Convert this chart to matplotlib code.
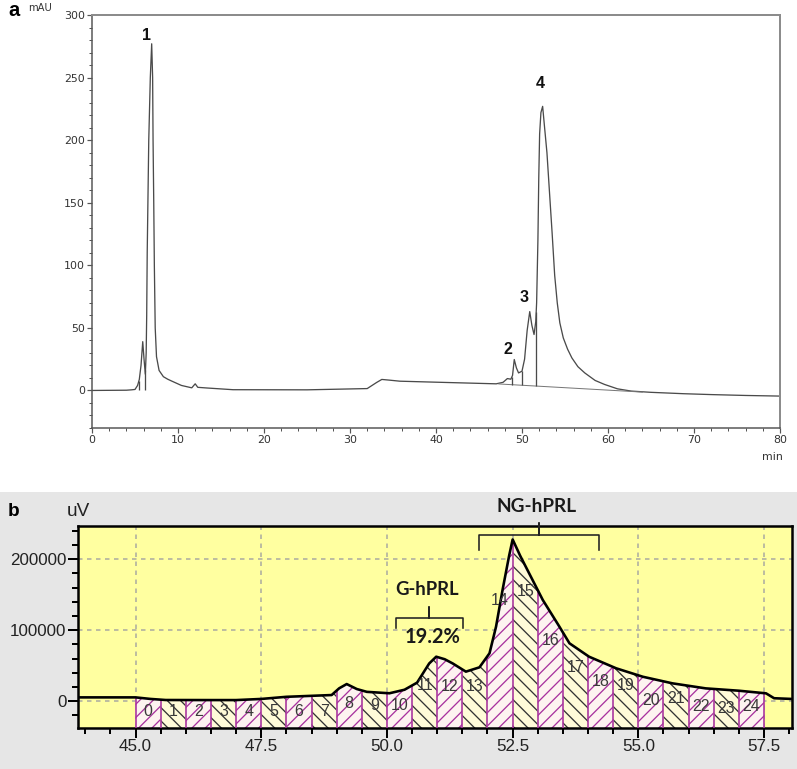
import numpy as np
import matplotlib
matplotlib.use("Agg")
import matplotlib.pyplot as plt
from matplotlib.ticker import MultipleLocator
from matplotlib.patches import Rectangle

W, H, DPI = 797, 769, 80
PX = 72.0 / DPI  # points per pixel

# ---- panel a: UV chromatogram (mAU vs min) ----
t_a = [0.0, 4.0, 4.6, 5.0, 5.3, 5.5, 5.7, 5.9, 6.05, 6.2, 6.3, 6.36, 6.42, 6.5, 6.6, 6.78,
       6.94, 7.05, 7.1, 7.18, 7.25, 7.35, 7.5, 7.8, 8.3, 8.8, 9.3, 10.4, 11.6, 12.0, 12.3,
       13.3, 16.4, 25.0, 32.0, 33.1, 33.7, 34.5, 35.8, 40.0, 47.0, 47.8, 48.3, 48.7, 48.9,
       49.1, 49.35, 49.6, 50.0, 50.3, 50.6, 50.9, 51.15, 51.4, 51.6, 51.7, 51.85, 51.95,
       52.05, 52.2, 52.4, 52.6, 52.9, 53.2, 53.5, 53.8, 54.1, 54.4, 54.8, 55.3, 55.8, 56.5,
       57.3, 58.5, 59.6, 61.1, 62.7, 65.0, 68.8, 72.0, 76.0, 80.0]
mau = [0.0, 0.2, 0.5, 0.8, 4.0, 8.8, 20.0, 39.0, 25.0, 13.0, 30.0, 60.0, 110.0, 150.0, 200.0, 250.0,
       277.0, 250.0, 200.0, 150.0, 100.0, 50.0, 27.0, 16.0, 11.0, 9.0, 7.4, 4.0, 2.1, 5.3, 2.5,
       2.0, 0.6, 0.5, 1.5, 6.4, 8.8, 8.3, 7.4, 6.6, 5.3, 6.5, 9.5, 9.0, 12.0,
       24.7, 18.0, 14.0, 15.4, 25.0, 48.0, 63.0, 52.0, 44.7, 55.0, 70.0, 120.0, 170.0,
       205.0, 222.0, 227.0, 212.0, 190.0, 158.0, 126.0, 92.0, 70.0, 54.0, 42.0, 33.0, 26.0, 19.0,
       14.0, 8.0, 4.8, 1.3, -0.5, -1.5, -2.6, -3.3, -4.0, -4.5]
base_t = [47.3, 64.0]
base_v = [5.2, -1.3]
drop_t = [5.45, 6.22, 48.8, 50.0, 51.65]
drop_base = [0.5, 0.5, 4.6, 4.2, 3.7]
peak_names = ["1", "2", "3", "4"]
peak_x = [6.3, 48.4, 50.2, 52.1]
peak_y = [284, 33, 74, 245]

# ---- panel b: fraction profile (uV vs min) ----
t_b = [43.85, 45.0, 45.3, 45.6, 46.5, 47.0, 47.5, 48.0, 48.9, 49.05, 49.2, 49.4, 49.6, 50.05,
       50.35, 50.6, 50.84, 50.98, 51.15, 51.31, 51.57, 51.84, 52.04, 52.17, 52.3, 52.43, 52.5,
       52.65, 52.83, 53.1, 53.43, 53.63, 54.02, 54.56, 55.09, 55.68, 56.34, 57.0, 57.54, 57.7,
       58.05]
uv = [5200, 5200, 3000, 1500, 1400, 1400, 3000, 6000, 8500, 18000, 24000, 17000, 13000, 11000,
      16000, 26000, 53000, 62600, 59000, 53000, 41500, 47600, 67400, 105000, 157000, 205000, 228000,
      205000, 180000, 142600, 105000, 81500, 62600, 46200, 34300, 25000, 17900, 14600, 10900, 4000,
      3000]
frac_start = 45.0
frac_width = 0.5
frac_names = [str(i) for i in range(25)]
frac_label_y = [-15000, -15000, -15000, -15000, -15000, -15000, -15000, -15000, -3000, -6000,
                -6000, 22500, 21000, 20000, 142000, 154000, 86000, 48000, 27000, 22600,
                1400, 4000, -8000, -10000, -8000]

NARROW = ["Liberation Sans", "DejaVu Sans"]

fig = plt.figure(figsize=(W / DPI, H / DPI), dpi=DPI)
fig.patches.append(Rectangle((0, 0), 1, 1 - 492 / H, transform=fig.transFigure,
                             facecolor="#e6e6e6", edgecolor="none", zorder=-10))

# ================= panel a =================
ax1 = fig.add_axes([92 / W, 1 - 428 / H, (780 - 92) / W, (428 - 15) / H])
ax1.plot(t_a, mau, color="#4a4a4a", lw=1.3 * PX)
ax1.plot(base_t, base_v, color="#777777", lw=1.0 * PX)
ax1.vlines(drop_t, drop_base, np.interp(drop_t, t_a, mau), color="#4a4a4a", lw=1.3 * PX)
ax1.set_xlim(0, 80)
ax1.set_ylim(-30, 300)
ax1.set_xticks(range(0, 81, 10))
ax1.set_yticks(range(0, 301, 50))
ax1.xaxis.set_minor_locator(MultipleLocator(2))
ax1.yaxis.set_minor_locator(MultipleLocator(10))
ax1.tick_params(which="major", direction="out", length=5 * PX, width=1.2 * PX, color="#555555",
                labelsize=11 * PX, labelcolor="#333333", pad=2 * PX)
ax1.tick_params(which="minor", direction="out", length=3 * PX, width=1.0 * PX, color="#555555")
for s in ["left", "bottom"]:
    ax1.spines[s].set_color("#555555")
    ax1.spines[s].set_linewidth(1.5 * PX)
for s in ["top", "right"]:
    ax1.spines[s].set_color("#8c8c8c")
    ax1.spines[s].set_linewidth(2 * PX)
for name, x, y in zip(peak_names, peak_x, peak_y):
    ax1.text(x, y, name, ha="center", va="center", fontsize=16 * PX, fontweight="bold",
             family="Liberation Sans", color="#111111")
fig.text(8 / W, 1 - 11 / H, "a", fontsize=20 * PX, fontweight="bold", va="center",
         family="Liberation Sans")
fig.text(28 / W, 1 - 8 / H, "mAU", fontsize=10 * PX, va="center", color="#333333")
fig.text(772 / W, 1 - 457 / H, "min", fontsize=11 * PX, ha="center", va="center", color="#333333")

# ================= panel b =================
ymin_b, ymax_b = -38000, 247000
ax2 = fig.add_axes([77.7 / W, 1 - 728 / H, (791.7 - 77.7) / W, (728 - 526) / H])
ax2.set_facecolor("#ffffa0")
ax2.set_xlim(43.85, 58.05)
ax2.set_ylim(ymin_b, ymax_b)

plt.rcParams["hatch.linewidth"] = 1.3 * PX
tb = np.array(t_b)
vb = np.array(uv)
for i in range(len(frac_names)):
    a = frac_start + i * frac_width
    b = a + frac_width
    inside = (tb > a) & (tb < b)
    xs = np.concatenate([[a], tb[inside], [b]])
    ys = np.interp(xs, tb, vb)
    if i % 2 == 0:
        ax2.fill_between(xs, ymin_b, ys, facecolor="#fdf3f0", edgecolor="#a8329e",
                         hatch="//", linewidth=0, zorder=2)
    else:
        ax2.fill_between(xs, ymin_b, ys, facecolor="#fffbd8", edgecolor="#333333",
                         hatch="\\\\", linewidth=0, zorder=2)
    ax2.text((a + b) / 2, frac_label_y[i], frac_names[i], ha="center", va="center",
             fontsize=16 * PX, color="#3a3a3a", zorder=6, family=NARROW)

edges = frac_start + frac_width * np.arange(len(frac_names) + 1)
ax2.vlines(edges, ymin_b, np.interp(edges, tb, vb), color="#a8329e", lw=1.6 * PX, zorder=3)
ax2.plot(t_b, uv, color="black", lw=2.6 * PX, zorder=5)

ax2.set_xticks([45.0, 47.5, 50.0, 52.5, 55.0, 57.5])
ax2.set_xticklabels(["45.0", "47.5", "50.0", "52.5", "55.0", "57.5"])
ax2.set_yticks([0, 100000, 200000])
ax2.set_yticklabels(["0", "100000", "200000"])
ax2.xaxis.set_minor_locator(MultipleLocator(0.5))
ax2.yaxis.set_minor_locator(MultipleLocator(20000))
ax2.grid(True, which="major", color="#a8a8a0", linestyle=(0, (3, 3)), lw=1.5 * PX, zorder=1)
ax2.set_axisbelow(True)
ax2.tick_params(which="major", direction="out", length=10 * PX, width=2 * PX, color="black",
                labelsize=17 * PX, labelcolor="#222222", pad=1)
ax2.tick_params(which="minor", direction="out", length=6 * PX, width=2 * PX, color="black")
for lab in ax2.get_xticklabels() + ax2.get_yticklabels():
    lab.set_family(NARROW)
for s in ax2.spines.values():
    s.set_color("black")
    s.set_linewidth(2.5 * PX)

# annotations: G-hPRL and NG-hPRL braces
def brace(ax, x0, x1, y_mid, y_end, y_top):
    xc = (x0 + x1) / 2
    ax.plot([x0, x0, xc, xc, xc, x1, x1], [y_end, y_mid, y_mid, y_top, y_mid, y_mid, y_end],
            color="#222222", lw=1.6 * PX, clip_on=False, zorder=7)

brace(ax2, 50.18, 51.51, 117000, 103000, 133000)
brace(ax2, 51.84, 54.21, 234000, 213000, 251000)
ax2.text(50.8, 157000, "G-hPRL", ha="center", va="center", fontsize=18.5 * PX,
         fontweight="bold", family="Lato", color="#1a1a1a", zorder=7)
ax2.text(50.9, 90000, "19.2%", ha="center", va="center", fontsize=20 * PX,
         fontweight="bold", family="Lato", color="#1a1a1a", zorder=7)
ax2.text(52.97, 274000, "NG-hPRL", ha="center", va="center", fontsize=19 * PX,
         fontweight="bold", family="Lato", color="#1a1a1a", clip_on=False, zorder=7)

fig.text(8 / W, 1 - 511 / H, "b", fontsize=19 * PX, fontweight="bold", va="center",
         family="Liberation Sans")
fig.text(78 / W, 1 - 512 / H, "uV", fontsize=19 * PX, ha="center", va="center",
         color="#222222", family=NARROW)

fig.savefig("out.png", dpi=DPI)
